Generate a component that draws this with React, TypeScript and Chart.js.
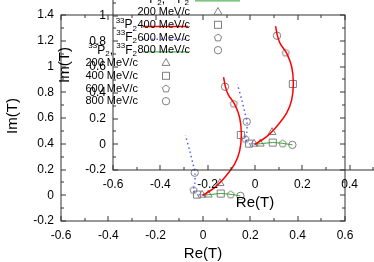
import React, { useEffect, useRef } from 'react';
import { Chart, registerables } from 'chart.js';

Chart.register(...registerables);

// ---------- data ----------
const xTickLabels = ['-0.6', '-0.4', '-0.2', '0', '0.2', '0.4', '0.6'];
const yTickLabels = ['-0.2', '0', '0.2', '0.4', '0.6', '0.8', '1', '1.2', '1.4'];

// 33P2 amplitude (red solid)
const p2Re = [0, 0.049, 0.097, 0.134, 0.155, 0.162, 0.155, 0.134, 0.106, 0.094, 0.087];
const p2Im = [0, 0.059, 0.15, 0.243, 0.344, 0.473, 0.602, 0.706, 0.784, 0.849, 0.918];
// 33F2 amplitude (blue dotted)
const f2Re = [0, -0.004, -0.025, -0.04, -0.035, -0.034, -0.042, -0.056, -0.074];
const f2Im = [0, 0.003, 0.005, 0.042, 0.09, 0.175, 0.24, 0.344, 0.465];
// 33P2-33F2 mixing (green)
const mixRe = [0, 0.022, 0.075, 0.117, 0.158];
const mixIm = [0, 0.004, 0.013, 0.007, -0.005];

// markers at lab momenta 200, 400, 600, 800 MeV/c
const momenta = ['200 MeV/c', '400 MeV/c', '600 MeV/c', '800 MeV/c'];
const p2MarkRe = [0.072, 0.16, 0.13, 0.093];
const p2MarkIm = [0.093, 0.468, 0.712, 0.843];
const f2MarkRe = [-0.004, -0.025, -0.04, -0.035];
const f2MarkIm = [0.003, 0.005, 0.042, 0.175];
const mixMarkRe = [0.022, 0.075, 0.117, 0.158];
const mixMarkIm = [0.004, 0.013, 0.007, -0.005];

// ---------- styles ----------
const FONT = '"Liberation Sans", Arial, Helvetica, sans-serif';
const RED = '#ff0000';
const BLUE = '#5a5aff';
const GREEN = '#2ea02e';
const MARK = '#808080';
const AXIS = '#333333';

const pts = (xs: number[], ys: number[]) => xs.map((x, i) => ({ x, y: ys[i] }));

function drawPentagonPath(g: CanvasRenderingContext2D, x: number, y: number, r: number) {
  g.beginPath();
  for (let k = 0; k < 5; k++) {
    const a = -Math.PI / 2 + (k * 2 * Math.PI) / 5;
    const px = x + Math.cos(a) * r;
    const py = y + Math.sin(a) * r;
    if (k === 0) g.moveTo(px, py);
    else g.lineTo(px, py);
  }
  g.closePath();
}

function makePentagon(r: number): HTMLCanvasElement {
  const c = document.createElement('canvas');
  const s = Math.ceil(2 * r + 3);
  c.width = s;
  c.height = s;
  const g = c.getContext('2d')!;
  drawPentagonPath(g, s / 2, s / 2 + 0.3, r);
  g.strokeStyle = MARK;
  g.lineWidth = 1;
  g.stroke();
  return c;
}

function drawMarker(g: CanvasRenderingContext2D, kind: number, x: number, y: number) {
  g.save();
  g.strokeStyle = MARK;
  g.lineWidth = 1;
  if (kind === 0) {
    const r = 4.6;
    let a = 0;
    g.beginPath();
    g.moveTo(x + Math.sin(a) * r, y - Math.cos(a) * r);
    a += (2 * Math.PI) / 3;
    g.lineTo(x + Math.sin(a) * r, y - Math.cos(a) * r);
    a += (2 * Math.PI) / 3;
    g.lineTo(x + Math.sin(a) * r, y - Math.cos(a) * r);
    g.closePath();
    g.stroke();
  } else if (kind === 1) {
    const s = 3.5;
    g.strokeRect(x - s, y - s, 2 * s, 2 * s);
  } else if (kind === 2) {
    drawPentagonPath(g, x, y + 0.3, 3.8);
    g.stroke();
  } else {
    g.beginPath();
    g.arc(x, y, 3.7, 0, Math.PI * 2);
    g.stroke();
  }
  g.restore();
}

type Piece = { t: string; k?: 'sup' | 'sub' };

function drawRich(g: CanvasRenderingContext2D, pieces: Piece[], right: number, y: number) {
  const big = `12px ${FONT}`;
  const small = `8px ${FONT}`;
  let w = 0;
  for (const p of pieces) {
    g.font = p.k ? small : big;
    w += g.measureText(p.t).width;
  }
  let x = right - w;
  g.textBaseline = 'middle';
  g.textAlign = 'left';
  for (const p of pieces) {
    g.font = p.k ? small : big;
    const dy = p.k === 'sup' ? -4.5 : p.k === 'sub' ? 3.5 : 0;
    g.fillText(p.t, x, y + dy);
    x += g.measureText(p.t).width;
  }
}

const figurePlugin = {
  id: 'figureDecor',
  afterDraw(chart: any) {
    const g: CanvasRenderingContext2D = chart.ctx;
    const { left, right, top, bottom } = chart.chartArea;
    const xs = chart.scales.x;
    const ys = chart.scales.y;
    g.save();
    // border
    g.strokeStyle = AXIS;
    g.lineWidth = 1;
    g.strokeRect(Math.round(left), Math.round(top), Math.round(right - left), Math.round(bottom - top));
    // ticks (inward, mirrored)
    g.beginPath();
    for (let i = -6; i <= 6; i++) {
      const v = i / 10;
      const len = i % 2 === 0 ? 5 : 3;
      const px = Math.round(xs.getPixelForValue(v));
      g.moveTo(px, bottom);
      g.lineTo(px, bottom - len);
      g.moveTo(px, top);
      g.lineTo(px, top + len);
    }
    for (let i = -2; i <= 14; i++) {
      const v = i / 10;
      const len = i % 2 === 0 ? 5 : 3;
      const py = Math.round(ys.getPixelForValue(v));
      g.moveTo(left, py);
      g.lineTo(left + len, py);
      g.moveTo(right, py);
      g.lineTo(right - len, py);
    }
    g.stroke();

    // axis titles
    g.fillStyle = '#000';
    g.font = `15px ${FONT}`;
    g.textAlign = 'center';
    g.textBaseline = 'middle';
    g.fillText('Re(T)', 203, 254);
    g.save();
    g.translate(13, 116);
    g.rotate(-Math.PI / 2);
    g.fillText('Im(T)', 0, 0);
    g.restore();

    // key
    const kr = 137;
    const sx0 = 143;
    const sx1 = 188;
    const smid = 166;
    const row = (i: number) => 25 + i * 12.7;
    g.fillStyle = '#000';
    drawRich(g, [{ t: '33', k: 'sup' }, { t: 'P' }, { t: '2', k: 'sub' }], kr, row(0));
    drawRich(g, [{ t: '33', k: 'sup' }, { t: 'F' }, { t: '2', k: 'sub' }], kr, row(1));
    drawRich(
      g,
      [
        { t: '33', k: 'sup' },
        { t: 'P' },
        { t: '2', k: 'sub' },
        { t: ', ' },
        { t: '33', k: 'sup' },
        { t: 'F' },
        { t: '2', k: 'sub' },
      ],
      kr,
      row(2)
    );
    const samples = [
      { c: RED, w: 1.5, d: [] as number[] },
      { c: BLUE, w: 1.5, d: [1.5, 3] },
      { c: GREEN, w: 1, d: [] as number[] },
    ];
    samples.forEach((s, i) => {
      g.save();
      g.strokeStyle = s.c;
      g.lineWidth = s.w;
      g.setLineDash(s.d);
      g.beginPath();
      g.moveTo(sx0, row(i) + 1.5);
      g.lineTo(sx1, row(i) + 1.5);
      g.stroke();
      g.restore();
    });
    g.font = `11px ${FONT}`;
    g.textAlign = 'right';
    g.textBaseline = 'middle';
    momenta.forEach((m, i) => {
      g.fillStyle = '#000';
      g.fillText(m, kr + 1, row(3 + i));
      drawMarker(g, i, smid, row(3 + i));
    });
    g.restore();
  },
};

function Figure({ left, top }: { left: number; top: number }) {
  const ref = useRef<HTMLCanvasElement | null>(null);
  useEffect(() => {
    if (!ref.current) return;
    const pent = makePentagon(3.8);
    const xVals = xTickLabels.map(Number);
    const yVals = yTickLabels.map(Number);
    const markerSet = (i: number, style: any, radius: number) => ({
      label: momenta[i],
      data: [
        { x: p2MarkRe[i], y: p2MarkIm[i] },
        { x: f2MarkRe[i], y: f2MarkIm[i] },
        { x: mixMarkRe[i], y: mixMarkIm[i] },
      ],
      showLine: false,
      pointStyle: style,
      pointRadius: radius,
      pointBorderColor: MARK,
      pointBackgroundColor: 'rgba(0,0,0,0)',
      pointBorderWidth: 1,
    });
    const chart = new Chart(ref.current, {
      type: 'scatter',
      data: {
        datasets: [
          {
            label: '33P2',
            data: pts(p2Re, p2Im),
            showLine: true,
            borderColor: RED,
            borderWidth: 1.5,
            pointRadius: 0,
            tension: 0.35,
          },
          {
            label: '33F2',
            data: pts(f2Re, f2Im),
            showLine: true,
            borderColor: BLUE,
            borderWidth: 1.5,
            borderDash: [1.5, 3],
            pointRadius: 0,
            tension: 0.3,
          },
          {
            label: 'mix',
            data: pts(mixRe, mixIm),
            showLine: true,
            borderColor: GREEN,
            borderWidth: 1,
            pointRadius: 0,
            tension: 0.2,
          },
          markerSet(0, 'triangle', 4.6),
          markerSet(1, 'rect', 5),
          markerSet(2, pent, 3.8),
          markerSet(3, 'circle', 3.7),
        ] as any,
      },
      options: {
        responsive: false,
        animation: false,
        devicePixelRatio: 1,
        layout: { padding: { left: 0, top: 15, right: 29, bottom: 12.6 } },
        plugins: { legend: { display: false }, tooltip: { enabled: false } },
        scales: {
          x: {
            type: 'linear',
            min: -0.6,
            max: 0.6,
            afterBuildTicks: (s: any) => {
              s.ticks = xVals.map((v) => ({ value: v }));
            },
            ticks: {
              callback: (_v: any, i: number) => xTickLabels[i],
              font: { family: FONT, size: 12 },
              color: '#000',
              padding: 7,
              maxRotation: 0,
              autoSkip: false,
            },
            grid: { display: false, drawTicks: false, tickLength: 0 },
            border: { display: false },
          },
          y: {
            type: 'linear',
            min: -0.2,
            max: 1.4,
            afterFit: (s: any) => {
              s.width = 61;
            },
            afterBuildTicks: (s: any) => {
              s.ticks = yVals.map((v) => ({ value: v }));
            },
            ticks: {
              callback: (_v: any, i: number) => yTickLabels[i],
              font: { family: FONT, size: 12 },
              color: '#000',
              padding: 7,
              autoSkip: false,
            },
            grid: { display: false, drawTicks: false, tickLength: 0 },
            border: { display: false },
          },
        },
      } as any,
      plugins: [figurePlugin],
    });
    return () => chart.destroy();
  }, []);
  return (
    <canvas
      ref={ref}
      width={374}
      height={262}
      style={{ position: 'absolute', left, top, width: 374, height: 262 }}
    />
  );
}

export default function App() {
  return (
    <div
      style={{
        position: 'fixed',
        left: 0,
        top: 0,
        width: 374,
        height: 262,
        overflow: 'hidden',
        background: '#fff',
      }}
    >
      <Figure left={0} top={0} />
      <Figure left={52} top={-51} />
    </div>
  );
}
